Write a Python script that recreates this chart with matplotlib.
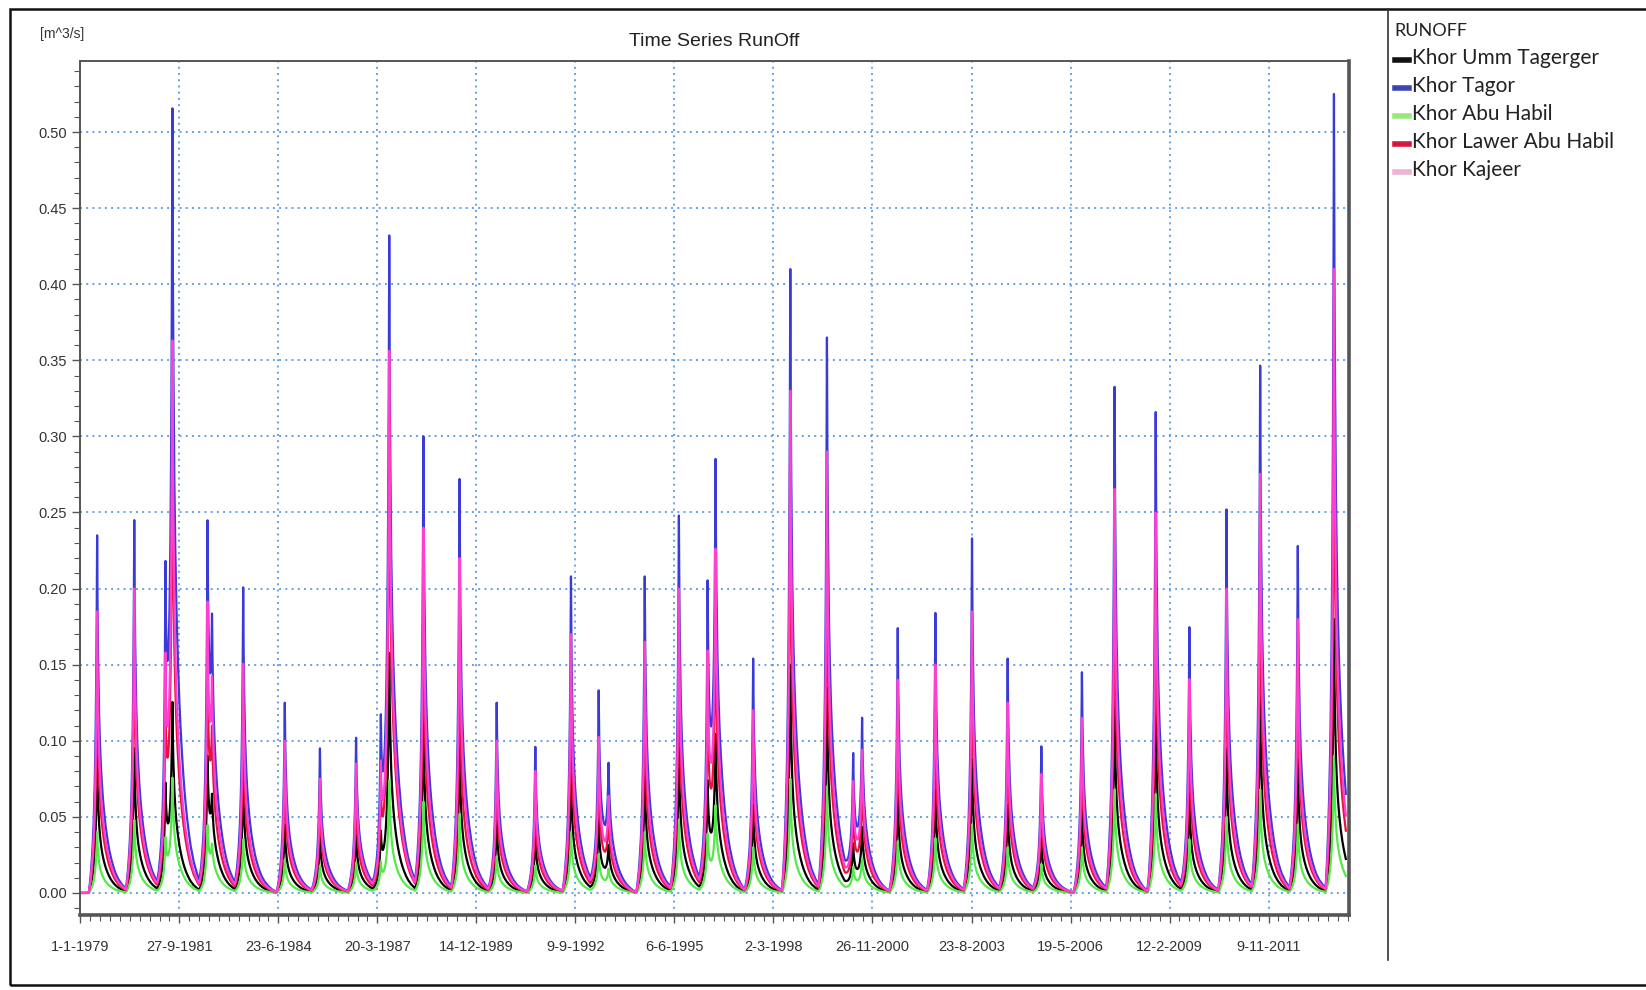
import numpy as np
import pandas as pd
import matplotlib
matplotlib.use("Agg")
import matplotlib.pyplot as plt
import matplotlib.dates as mdates
from matplotlib.lines import Line2D
from matplotlib.patches import Rectangle
from matplotlib.ticker import MultipleLocator, FixedLocator, FuncFormatter

# annual flood peaks [m^3/s]
years = list(range(1979, 2014))
# position of the peak inside the year (fraction of the year)
peak_pos = [0.47, 0.49, 0.55, 0.52, 0.51, 0.66, 0.63, 0.62, 0.55, 0.49,
            0.49, 0.52, 0.58, 0.57, 0.33, 0.60, 0.55, 0.56, 0.60, 0.63,
            0.65, 0.62, 0.60, 0.64, 0.66, 0.64, 0.57, 0.70, 0.60, 0.73,
            0.67, 0.69, 0.63, 0.66, 0.66]
tagor = [0.235, 0.245, 0.470, 0.230, 0.200, 0.125, 0.095, 0.102, 0.410, 0.300,
         0.272, 0.125, 0.096, 0.208, 0.130, 0.208, 0.248, 0.245, 0.154, 0.410,
         0.365, 0.100, 0.174, 0.184, 0.233, 0.154, 0.096, 0.145, 0.332, 0.316,
         0.174, 0.252, 0.346, 0.228, 0.525]
kajeer = [0.185, 0.200, 0.330, 0.180, 0.150, 0.100, 0.075, 0.085, 0.340, 0.240,
          0.220, 0.100, 0.080, 0.170, 0.100, 0.165, 0.200, 0.195, 0.120, 0.330,
          0.290, 0.082, 0.140, 0.150, 0.185, 0.125, 0.078, 0.115, 0.265, 0.250,
          0.140, 0.200, 0.275, 0.180, 0.410]
lawer = [0.150, 0.170, 0.280, 0.140, 0.120, 0.080, 0.062, 0.065, 0.300, 0.190,
         0.160, 0.080, 0.062, 0.130, 0.080, 0.130, 0.160, 0.155, 0.100, 0.270,
         0.230, 0.065, 0.110, 0.115, 0.150, 0.100, 0.062, 0.092, 0.210, 0.200,
         0.110, 0.165, 0.215, 0.150, 0.330]
umm = [0.090, 0.095, 0.110, 0.085, 0.075, 0.045, 0.038, 0.040, 0.150, 0.115,
       0.100, 0.048, 0.038, 0.080, 0.048, 0.080, 0.095, 0.090, 0.058, 0.150,
       0.135, 0.038, 0.065, 0.068, 0.088, 0.058, 0.036, 0.055, 0.125, 0.120,
       0.065, 0.095, 0.130, 0.088, 0.180]
abu = [0.040, 0.048, 0.068, 0.042, 0.035, 0.022, 0.018, 0.020, 0.070, 0.060,
       0.052, 0.024, 0.018, 0.040, 0.025, 0.040, 0.048, 0.050, 0.030, 0.075,
       0.070, 0.020, 0.034, 0.036, 0.045, 0.030, 0.019, 0.030, 0.068, 0.065,
       0.035, 0.050, 0.068, 0.045, 0.090]

# secondary floods inside some seasons
extra_years = [1981, 1982, 1987, 1993, 1996, 2000]
extra_pos = [0.35, 0.64, 0.31, 0.61, 0.34, 0.37]
extra_tagor = [0.200, 0.110, 0.115, 0.065, 0.200, 0.085]
extra_kajeer = [0.145, 0.085, 0.085, 0.048, 0.155, 0.068]
extra_lawer = [0.115, 0.065, 0.068, 0.038, 0.125, 0.052]
extra_umm = [0.068, 0.038, 0.040, 0.024, 0.072, 0.030]
extra_abu = [0.034, 0.019, 0.020, 0.012, 0.038, 0.016]

# hydrograph shape (fraction of peak), every 5 days from -85 to +345 days
shape = [0.0, 0.01, 0.022, 0.035, 0.05, 0.068, 0.088, 0.11, 0.135, 0.165, 0.2,
         0.245, 0.3, 0.37, 0.46, 0.58, 0.75,
         1.0, 0.78, 0.66, 0.57, 0.5, 0.45, 0.41, 0.375, 0.345, 0.32, 0.298,
         0.278, 0.26, 0.243, 0.228, 0.214, 0.201, 0.189, 0.178, 0.168, 0.158,
         0.149, 0.14, 0.132, 0.124, 0.117, 0.11, 0.104, 0.098, 0.092, 0.087,
         0.082, 0.077, 0.072, 0.068, 0.064, 0.06, 0.056, 0.053, 0.05, 0.047,
         0.044, 0.041, 0.038, 0.036, 0.034, 0.032, 0.03, 0.028, 0.026, 0.024,
         0.022, 0.021, 0.019, 0.018, 0.016, 0.015, 0.013, 0.012, 0.011, 0.01,
         0.009, 0.008, 0.007, 0.006, 0.005, 0.004, 0.003, 0.002, 0.0]
rise = 17

names = ["Khor Umm Tagerger", "Khor Tagor", "Khor Abu Habil",
         "Khor Lawer Abu Habil", "Khor Kajeer"]
line_colors = ["#000000", "#3a3ad8", "#55e84a", "#e8123f", "#ff3fd0"]
key_colors = ["#111111", "#3b45b5", "#9be87a", "#d8143f", "#eeb2d2"]

grid = pd.date_range("1979-01-01", "2013-12-31", freq="5D")
n = len(grid)


def build(peaks, e_peaks):
    q = np.zeros(n)
    events = list(zip(years, peak_pos, peaks)) + list(zip(extra_years, extra_pos, e_peaks))
    for y, p, v in events:
        c = pd.Timestamp(y, 1, 1) + pd.Timedelta(days=p * 365)
        i0 = int(round((c - grid[0]).days / 5)) - rise
        for k, f in enumerate(shape):
            if 0 <= i0 + k < n:
                q[i0 + k] += v * f
    return q


series = [build(umm, extra_umm), build(tagor, extra_tagor), build(abu, extra_abu),
          build(lawer, extra_lawer), build(kajeer, extra_kajeer)]

W, H = 1646, 990
fig = plt.figure(figsize=(W / 100, H / 100), dpi=100)
ax = fig.add_axes([80 / W, 1 - 915 / H, (1349 - 80) / W, (915 - 61) / H])

for q, c in zip(series, line_colors):
    ax.plot(grid, q, color=c, lw=1.6)

ax.set_xlim(pd.Timestamp(1978, 12, 29), pd.Timestamp(2014, 1, 29))
ax.set_ylim(-0.0145, 0.5467)

# ticks every 1000 days, as in the source software
t0 = mdates.date2num(pd.Timestamp(1979, 1, 1))
major = [t0 + 1000 * i for i in range(13)]
minor = [t0 + 100 * i for i in range(129)]
ax.xaxis.set_major_locator(FixedLocator(major))
ax.xaxis.set_minor_locator(FixedLocator(minor))
ax.xaxis.set_major_formatter(FuncFormatter(
    lambda v, pos: "{d.day}-{d.month}-{d.year}".format(d=mdates.num2date(v))))
ax.yaxis.set_major_locator(MultipleLocator(0.05))
ax.yaxis.set_minor_locator(MultipleLocator(0.01))
ax.yaxis.set_major_formatter(FuncFormatter(lambda v, pos: "%.2f" % v))

tick_font = ["Liberation Sans", "DejaVu Sans"]
for lab in ax.get_xticklabels() + ax.get_yticklabels():
    lab.set_family(tick_font)
ax.tick_params(which="major", length=6, width=1, color="#555555",
               labelsize=10.5, labelcolor="#333333")
ax.tick_params(which="minor", length=4, width=0.8, color="#555555")
ax.tick_params(axis="x", pad=12)

ax.grid(True, which="major", color="#4a8fe0", lw=1.4, ls=(0, (1, 2.2)), alpha=0.85)

for s in ax.spines.values():
    s.set_color("#555555")
    s.set_linewidth(1.4)
ax.spines["bottom"].set_linewidth(2.6)
ax.spines["right"].set_linewidth(2.6)

ax.set_title("Time Series RunOff", family=tick_font, fontsize=14, color="#222222", pad=11)
fig.text(40 / W, 1 - 34 / H, "[m^3/s]", family=tick_font, fontsize=10,
         color="#333333", va="center")

# outer frame and legend panel
fig.add_artist(Rectangle((10 / W, 5 / H), 1.05, 1 - 14 / H, transform=fig.transFigure,
                         fill=False, ec="#111111", lw=1.8))
fig.add_artist(Line2D([1388 / W, 1388 / W], [1 - 9 / H, 1 - 960 / H],
                      transform=fig.transFigure, color="#333333", lw=1.2))
leg_font = ["Lato", "DejaVu Sans"]
fig.text(1394 / W, 1 - 31 / H, "RUNOFF", family=leg_font, fontsize=13,
         color="#222222", va="center")
for i, (name, c) in enumerate(zip(names, key_colors)):
    y = 1 - (58 + 28 * i) / H
    fig.add_artist(Line2D([1395 / W, 1409 / W], [y - 0.002, y - 0.002],
                          transform=fig.transFigure, color=c, lw=4))
    fig.text(1412 / W, y, name, family=leg_font, fontsize=15, color="#222222",
             va="center")

fig.savefig("out.png", dpi=100)
